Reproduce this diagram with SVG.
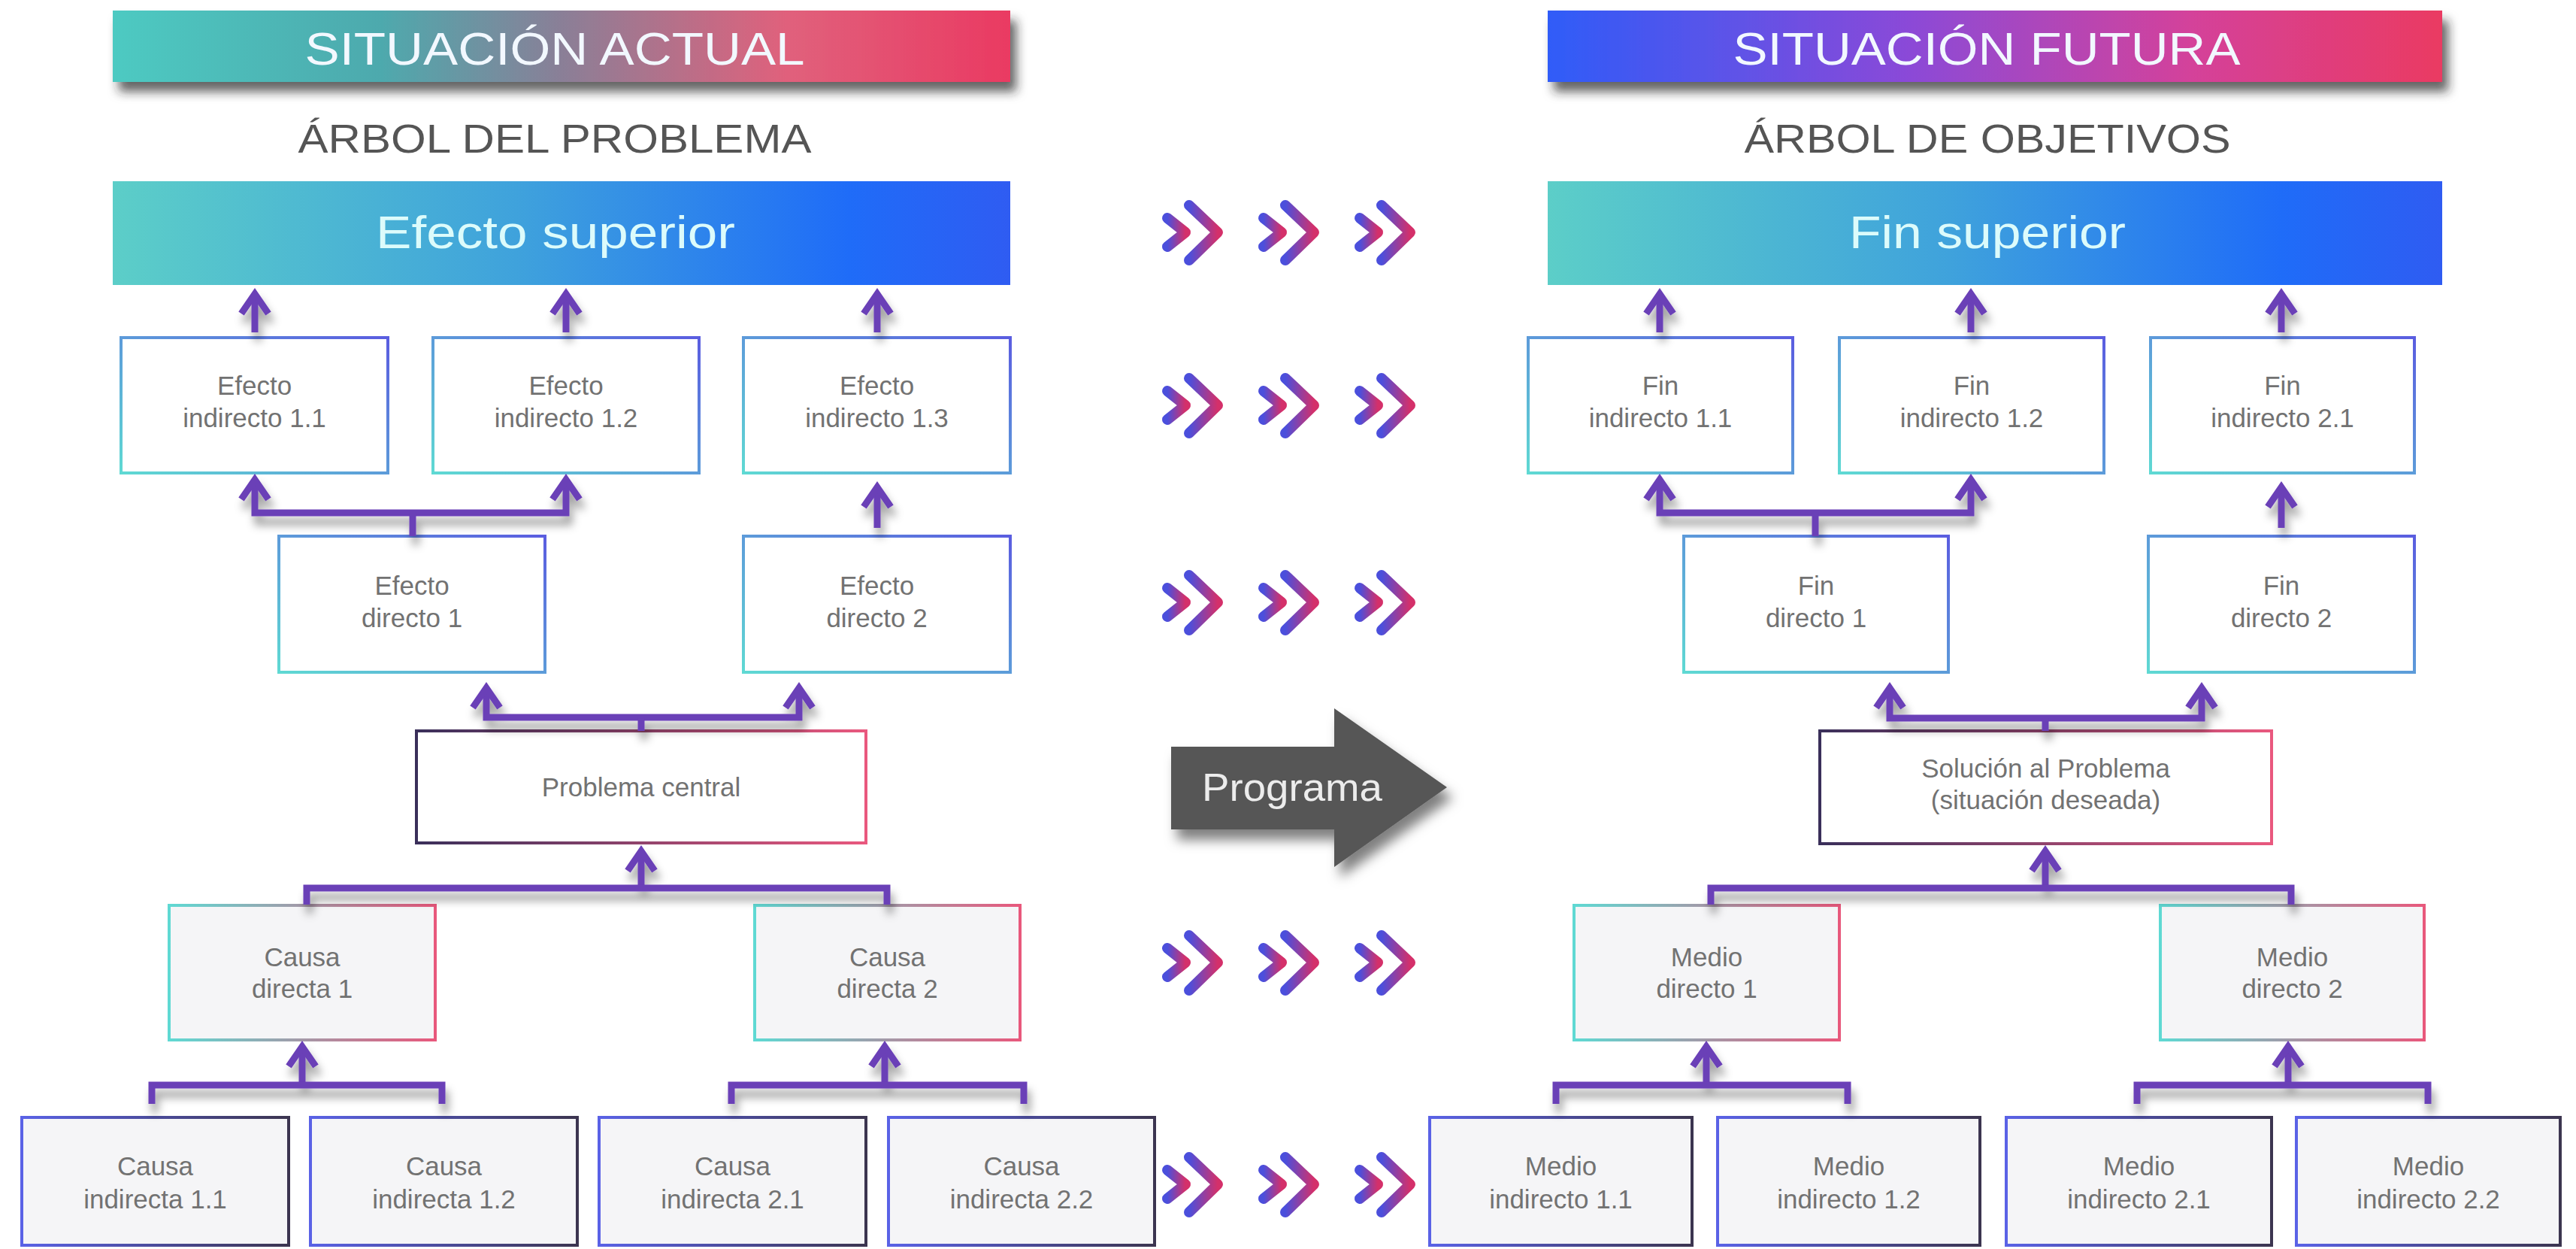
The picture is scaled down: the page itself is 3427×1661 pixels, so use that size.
<svg xmlns="http://www.w3.org/2000/svg" width="3427" height="1661" viewBox="0 0 3427 1661">
<defs>
<style>
.lbl{font-family:"Liberation Sans",Arial,sans-serif;font-size:35px;fill:#727272;text-anchor:middle}
.sub{font-family:"Liberation Sans",Arial,sans-serif;font-size:54px;fill:#555;text-anchor:middle}
.hdr{font-family:"Liberation Sans",Arial,sans-serif;font-size:62px;fill:#f2f8ff;text-anchor:middle}
.sup{font-family:"Liberation Sans",Arial,sans-serif;font-size:61px;fill:#dcfbfb;text-anchor:middle}
.con{fill:none;stroke:#6b3fb7;stroke-width:9;stroke-linejoin:miter}
.arr{marker-end:url(#ah)}
.dbl{marker-start:url(#ah);marker-end:url(#ah)}
.bw{fill:#ffffff;stroke-width:4}
.bg{fill:#f5f5f7;stroke-width:4}
.cb{stroke:url(#gCB)}
.dp{stroke:url(#gDP)}
.cp{stroke:url(#gCP)}
.bd{stroke:url(#gBD)}
.chev{fill:none;stroke:url(#gChev);stroke-width:14;stroke-linecap:round;stroke-linejoin:round}
</style>
<linearGradient id="gHL" x1="0" y1="0" x2="1" y2="0">
<stop offset="0" stop-color="#4ecac2"/><stop offset="0.3" stop-color="#4ea9ad"/><stop offset="0.5" stop-color="#8a7f97"/><stop offset="0.75" stop-color="#e0617c"/><stop offset="1" stop-color="#ea3a62"/>
</linearGradient>
<linearGradient id="gHR" x1="0" y1="0" x2="1" y2="0">
<stop offset="0" stop-color="#2f5cf8"/><stop offset="0.4" stop-color="#8a4ad8"/><stop offset="0.72" stop-color="#d4429a"/><stop offset="1" stop-color="#ea3a62"/>
</linearGradient>
<linearGradient id="gSup" x1="0" y1="0" x2="1" y2="0">
<stop offset="0" stop-color="#5ccec8"/><stop offset="0.45" stop-color="#3fa2dc"/><stop offset="0.82" stop-color="#1f6cf8"/><stop offset="1" stop-color="#2f5cf2"/>
</linearGradient>
<linearGradient id="gCB" x1="0" y1="1" x2="1" y2="0">
<stop offset="0" stop-color="#5fd9d3"/><stop offset="1" stop-color="#5a5de0"/>
</linearGradient>
<linearGradient id="gDP" x1="0" y1="0" x2="1" y2="0">
<stop offset="0" stop-color="#3a2f5a"/><stop offset="1" stop-color="#e9587e"/>
</linearGradient>
<linearGradient id="gCP" x1="0" y1="0" x2="1" y2="0">
<stop offset="0" stop-color="#5fd9d3"/><stop offset="1" stop-color="#e8587c"/>
</linearGradient>
<linearGradient id="gBD" x1="0" y1="0" x2="1" y2="0">
<stop offset="0" stop-color="#5a62e6"/><stop offset="1" stop-color="#3c3550"/>
</linearGradient>
<linearGradient id="gChev" x1="0" y1="0" x2="1" y2="0">
<stop offset="0" stop-color="#4b4fdc"/><stop offset="1" stop-color="#d4306a"/>
</linearGradient>
<filter id="shHdr" x="-5%" y="-30%" width="112%" height="190%">
<feDropShadow dx="8" dy="13" stdDeviation="7" flood-color="#222" flood-opacity="0.7"/>
</filter>
<filter id="shCon" x="-10%" y="-30%" width="130%" height="190%">
<feDropShadow dx="4" dy="12" stdDeviation="6" flood-color="#000" flood-opacity="0.38"/>
</filter>
<filter id="shArr" x="-10%" y="-20%" width="130%" height="150%">
<feDropShadow dx="8" dy="14" stdDeviation="8" flood-color="#000" flood-opacity="0.5"/>
</filter>
<marker id="ah" markerUnits="userSpaceOnUse" orient="auto-start-reverse" overflow="visible" refX="0" refY="0" markerWidth="1" markerHeight="1">
<path d="M-26,-18 L0,0 L-26,18" fill="none" stroke="#6b3fb7" stroke-width="9" stroke-linejoin="miter"/>
</marker>
<g id="chevpair">
<path class="chev" d="M6,-19 L30,0 L6,19"/>
<path class="chev" d="M35,-36 L73,0 L35,37"/>
</g>
<g id="chevrow">
<use href="#chevpair" x="0"/>
<use href="#chevpair" x="128"/>
<use href="#chevpair" x="256"/>
</g>
</defs>
<rect x="0" y="0" width="3427" height="1661" fill="#ffffff"/>

<!-- Left side -->
<g id="hdr-left">
<rect x="150" y="14" width="1194" height="95" fill="url(#gHL)" filter="url(#shHdr)"/>
<text class="hdr" x="738" y="86" textLength="665" lengthAdjust="spacingAndGlyphs">SITUACIÓN ACTUAL</text>
</g>
<g id="sub-left"><text class="sub" x="738" y="203" textLength="683" lengthAdjust="spacingAndGlyphs">ÁRBOL DEL PROBLEMA</text></g>
<g id="efecto-superior">
<rect x="150" y="241" width="1194" height="138" fill="url(#gSup)"/>
<text class="sup" x="739" y="330" textLength="478" lengthAdjust="spacingAndGlyphs">Efecto superior</text>
</g>
<g id="efecto-ind-11"><rect class="bw cb" x="161" y="449" width="355" height="180"/><text class="lbl"><tspan x="338.5" y="525">Efecto</tspan><tspan x="338.5" y="568">indirecto 1.1</tspan></text></g>
<g id="efecto-ind-12"><rect class="bw cb" x="576" y="449" width="354" height="180"/><text class="lbl"><tspan x="753" y="525">Efecto</tspan><tspan x="753" y="568">indirecto 1.2</tspan></text></g>
<g id="efecto-ind-13"><rect class="bw cb" x="989" y="449" width="355" height="180"/><text class="lbl"><tspan x="1166.5" y="525">Efecto</tspan><tspan x="1166.5" y="568">indirecto 1.3</tspan></text></g>
<g id="efecto-dir-1"><rect class="bw cb" x="371" y="713" width="354" height="181"/><text class="lbl"><tspan x="548" y="791">Efecto</tspan><tspan x="548" y="834">directo 1</tspan></text></g>
<g id="efecto-dir-2"><rect class="bw cb" x="989" y="713" width="355" height="181"/><text class="lbl"><tspan x="1166.5" y="791">Efecto</tspan><tspan x="1166.5" y="834">directo 2</tspan></text></g>
<g id="problema-central"><rect class="bw dp" x="554" y="972" width="598" height="149"/><text class="lbl" x="853" y="1059">Problema central</text></g>
<g id="causa-dir-1"><rect class="bg cp" x="225" y="1204" width="354" height="179"/><text class="lbl"><tspan x="402" y="1285">Causa</tspan><tspan x="402" y="1327">directa 1</tspan></text></g>
<g id="causa-dir-2"><rect class="bg cp" x="1004" y="1204" width="353" height="179"/><text class="lbl"><tspan x="1180.5" y="1285">Causa</tspan><tspan x="1180.5" y="1327">directa 2</tspan></text></g>
<g id="causa-ind-11"><rect class="bg bd" x="29" y="1486" width="355" height="170"/><text class="lbl"><tspan x="206.5" y="1563">Causa</tspan><tspan x="206.5" y="1607">indirecta 1.1</tspan></text></g>
<g id="causa-ind-12"><rect class="bg bd" x="413" y="1486" width="355" height="170"/><text class="lbl"><tspan x="590.5" y="1563">Causa</tspan><tspan x="590.5" y="1607">indirecta 1.2</tspan></text></g>
<g id="causa-ind-21"><rect class="bg bd" x="797" y="1486" width="355" height="170"/><text class="lbl"><tspan x="974.5" y="1563">Causa</tspan><tspan x="974.5" y="1607">indirecta 2.1</tspan></text></g>
<g id="causa-ind-22"><rect class="bg bd" x="1182" y="1486" width="354" height="170"/><text class="lbl"><tspan x="1359" y="1563">Causa</tspan><tspan x="1359" y="1607">indirecta 2.2</tspan></text></g>

<!-- Right side -->
<g id="hdr-right">
<rect x="2059" y="14" width="1190" height="95" fill="url(#gHR)" filter="url(#shHdr)"/>
<text class="hdr" x="2643" y="86" textLength="675" lengthAdjust="spacingAndGlyphs">SITUACIÓN FUTURA</text>
</g>
<g id="sub-right"><text class="sub" x="2644" y="203" textLength="647" lengthAdjust="spacingAndGlyphs">ÁRBOL DE OBJETIVOS</text></g>
<g id="fin-superior">
<rect x="2059" y="241" width="1190" height="138" fill="url(#gSup)"/>
<text class="sup" x="2644" y="330" textLength="368" lengthAdjust="spacingAndGlyphs">Fin superior</text>
</g>
<g id="fin-ind-11"><rect class="bw cb" x="2033" y="449" width="352" height="180"/><text class="lbl"><tspan x="2209" y="525">Fin</tspan><tspan x="2209" y="568">indirecto 1.1</tspan></text></g>
<g id="fin-ind-12"><rect class="bw cb" x="2447" y="449" width="352" height="180"/><text class="lbl"><tspan x="2623" y="525">Fin</tspan><tspan x="2623" y="568">indirecto 1.2</tspan></text></g>
<g id="fin-ind-21"><rect class="bw cb" x="2861" y="449" width="351" height="180"/><text class="lbl"><tspan x="3036.5" y="525">Fin</tspan><tspan x="3036.5" y="568">indirecto 2.1</tspan></text></g>
<g id="fin-dir-1"><rect class="bw cb" x="2240" y="713" width="352" height="181"/><text class="lbl"><tspan x="2416" y="791">Fin</tspan><tspan x="2416" y="834">directo 1</tspan></text></g>
<g id="fin-dir-2"><rect class="bw cb" x="2858" y="713" width="354" height="181"/><text class="lbl"><tspan x="3035" y="791">Fin</tspan><tspan x="3035" y="834">directo 2</tspan></text></g>
<g id="solucion"><rect class="bw dp" x="2421" y="972" width="601" height="150"/><text class="lbl"><tspan x="2721.5" y="1034">Solución al Problema</tspan><tspan x="2721.5" y="1076">(situación deseada)</tspan></text></g>
<g id="medio-dir-1"><rect class="bg cp" x="2094" y="1204" width="353" height="179"/><text class="lbl"><tspan x="2270.5" y="1285">Medio</tspan><tspan x="2270.5" y="1327">directo 1</tspan></text></g>
<g id="medio-dir-2"><rect class="bg cp" x="2874" y="1204" width="351" height="179"/><text class="lbl"><tspan x="3049.5" y="1285">Medio</tspan><tspan x="3049.5" y="1327">directo 2</tspan></text></g>
<g id="medio-ind-11"><rect class="bg bd" x="1902" y="1486" width="349" height="170"/><text class="lbl"><tspan x="2076.5" y="1563">Medio</tspan><tspan x="2076.5" y="1607">indirecto 1.1</tspan></text></g>
<g id="medio-ind-12"><rect class="bg bd" x="2285" y="1486" width="349" height="170"/><text class="lbl"><tspan x="2459.5" y="1563">Medio</tspan><tspan x="2459.5" y="1607">indirecto 1.2</tspan></text></g>
<g id="medio-ind-21"><rect class="bg bd" x="2669" y="1486" width="353" height="170"/><text class="lbl"><tspan x="2845.5" y="1563">Medio</tspan><tspan x="2845.5" y="1607">indirecto 2.1</tspan></text></g>
<g id="medio-ind-22"><rect class="bg bd" x="3055" y="1486" width="351" height="170"/><text class="lbl"><tspan x="3230.5" y="1563">Medio</tspan><tspan x="3230.5" y="1607">indirecto 2.2</tspan></text></g>

<!-- Middle: chevrons and Programa arrow -->
<g id="chevrons">
<use href="#chevrow" x="1547" y="309"/>
<use href="#chevrow" x="1547" y="539"/>
<use href="#chevrow" x="1547" y="801"/>
<use href="#chevrow" x="1547" y="1280"/>
<use href="#chevrow" x="1547" y="1575"/>
</g>
<g id="programa">
<polygon points="1558,993 1775,993 1775,942 1925,1047 1775,1153 1775,1103 1558,1103" fill="#575757" filter="url(#shArr)"/>
<text x="1599" y="1065" font-family="Liberation Sans, Arial, sans-serif" font-size="52" fill="#ececec" textLength="240" lengthAdjust="spacingAndGlyphs">Programa</text>
</g>

<!-- Connectors -->
<g id="connectors" filter="url(#shCon)">
<path class="con arr" d="M339,442 V391"/>
<path class="con arr" d="M753,442 V391"/>
<path class="con arr" d="M1167,442 V391"/>
<path class="con dbl" d="M339,638 V682 H753 V638"/>
<path class="con" d="M549,682 V713"/>
<path class="con arr" d="M1167,702 V648"/>
<path class="con dbl" d="M647,915 V954 H1063 V915"/>
<path class="con" d="M853,954 V972"/>
<path class="con arr" d="M853,1181 V1132"/>
<path class="con" d="M408,1203 V1181 H1180 V1203"/>
<path class="con arr" d="M402,1443 V1392"/>
<path class="con" d="M202,1468 V1443 H588 V1468"/>
<path class="con arr" d="M1177,1443 V1392"/>
<path class="con" d="M973,1468 V1443 H1362 V1468"/>

<path class="con arr" d="M2208,442 V391"/>
<path class="con arr" d="M2622,442 V391"/>
<path class="con arr" d="M3035,442 V391"/>
<path class="con dbl" d="M2208,638 V682 H2622 V638"/>
<path class="con" d="M2415,682 V713"/>
<path class="con arr" d="M3035,702 V648"/>
<path class="con dbl" d="M2514,915 V955 H2929 V915"/>
<path class="con" d="M2721,955 V972"/>
<path class="con arr" d="M2721,1181 V1132"/>
<path class="con" d="M2276,1203 V1181 H3048 V1203"/>
<path class="con arr" d="M2270,1443 V1392"/>
<path class="con" d="M2070,1468 V1443 H2458 V1468"/>
<path class="con arr" d="M3044,1443 V1392"/>
<path class="con" d="M2843,1468 V1443 H3230 V1468"/>
</g>
</svg>
